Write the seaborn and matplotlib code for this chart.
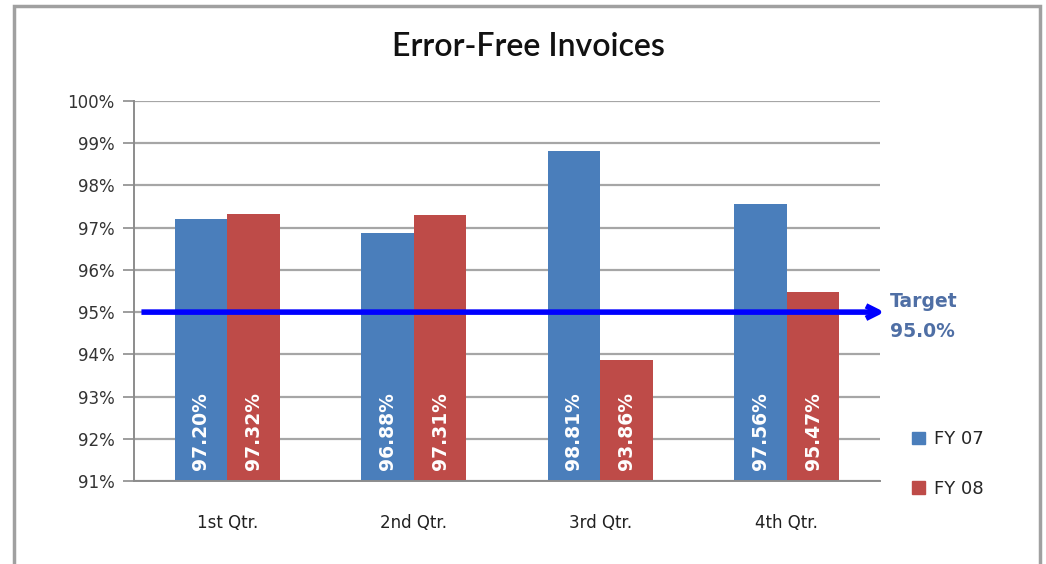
import seaborn as sns
import matplotlib.pyplot as plt
import matplotlib.patches as mpatches
import pandas as pd

# chart data
quarters = ["1st Qtr.", "2nd Qtr.", "3rd Qtr.", "4th Qtr."]
fy07 = [97.20, 96.88, 98.81, 97.56]
fy08 = [97.32, 97.31, 93.86, 95.47]
series = ["FY 07", "FY 08"]
target = 95.0
y_ticks = [91, 92, 93, 94, 95, 96, 97, 98, 99, 100]

df = pd.DataFrame({
    "quarter": quarters * 2,
    "value": fy07 + fy08,
    "series": [series[0]] * 4 + [series[1]] * 4,
})

sns.set_style("white")
plt.rcParams['font.family'] = ['DejaVu Sans']

fig = plt.figure(figsize=(10.46, 5.64), dpi=100)
ax = fig.add_axes([134 / 1046, 83 / 564, 746 / 1046, 380 / 564])

palette = {"FY 07": "#4A7EBB", "FY 08": "#BE4B48"}
sns.barplot(data=df, x="quarter", y="value", hue="series", palette=palette,
            width=0.565, gap=0, saturation=1, linewidth=0, ax=ax,
            legend=True, zorder=2)

ax.set_ylim(91, 100)
ax.set_xlim(-0.5, 3.5)
ax.set_yticks(y_ticks)
ax.set_yticklabels([f"{t}%" for t in y_ticks], fontsize=12, color="#333333")
ax.yaxis.grid(True, color="#A6A6A6", lw=1.6, zorder=0)
ax.set_axisbelow(True)
ax.set_xlabel("")
ax.set_ylabel("")

# x ticks between categories
ax.set_xticks(range(len(quarters)))
ax.set_xticklabels(quarters, fontsize=12, color="#222222")
ax.set_xticks([-0.5, 0.5, 1.5, 2.5, 3.5], minor=True)
ax.tick_params(axis="x", which="major", length=0, pad=24)
ax.tick_params(axis="x", which="minor", length=5, width=1.2, color="#8C8C8C", direction="out")
ax.tick_params(axis="y", length=8, width=1.2, color="#8C8C8C", direction="out", left=True, pad=6)

for s in ["top", "right"]:
    ax.spines[s].set_visible(False)
for s in ["left", "bottom"]:
    ax.spines[s].set_color("#8C8C8C")
    ax.spines[s].set_linewidth(1.4)

# value labels inside bars
for cont in ax.containers:
    for bar in cont:
        val = bar.get_height()
        ax.text(bar.get_x() + bar.get_width() / 2, 91.25, f"{val:.2f}%",
                rotation=90, ha="center", va="bottom", color="white",
                fontsize=13.5, fontweight="bold", zorder=5)

# target arrow
ax.annotate("", xy=(3.54, target), xytext=(-0.475, target),
            xycoords="data", annotation_clip=False,
            arrowprops=dict(arrowstyle="->,head_length=0.9,head_width=0.45",
                            color="#0000FF", lw=4, capstyle="butt"), zorder=6)
ax.text(3.555, target - 0.1, f"Target\n{target:.1f}%", color="#4F6FA5",
        fontsize=13.5, fontweight="bold", ha="left", va="center",
        linespacing=1.75, clip_on=False)

# legend
handles = [mpatches.Patch(color=palette[s]) for s in series]
ax.legend(handles, series, loc="upper left", bbox_to_anchor=(896 / 1046, 150 / 564),
          bbox_transform=fig.transFigure, frameon=False, fontsize=13,
          handlelength=0.7, handleheight=0.7, handletextpad=0.5, labelspacing=1.75)

fig.text(528 / 1046, 1 - 47 / 564, "Error-Free Invoices", ha="center", va="center",
         fontsize=23, color="#111111", family="Lato", fontweight="semibold")

# outer chart frame
frame = mpatches.Rectangle((14 / 1046, -0.05), 1026 / 1046, 1.05 - 6 / 564,
                           transform=fig.transFigure, fill=False,
                           edgecolor="#A0A0A0", lw=2.5)
fig.patches.append(frame)

fig.savefig("out.png", dpi=100, facecolor="white")
